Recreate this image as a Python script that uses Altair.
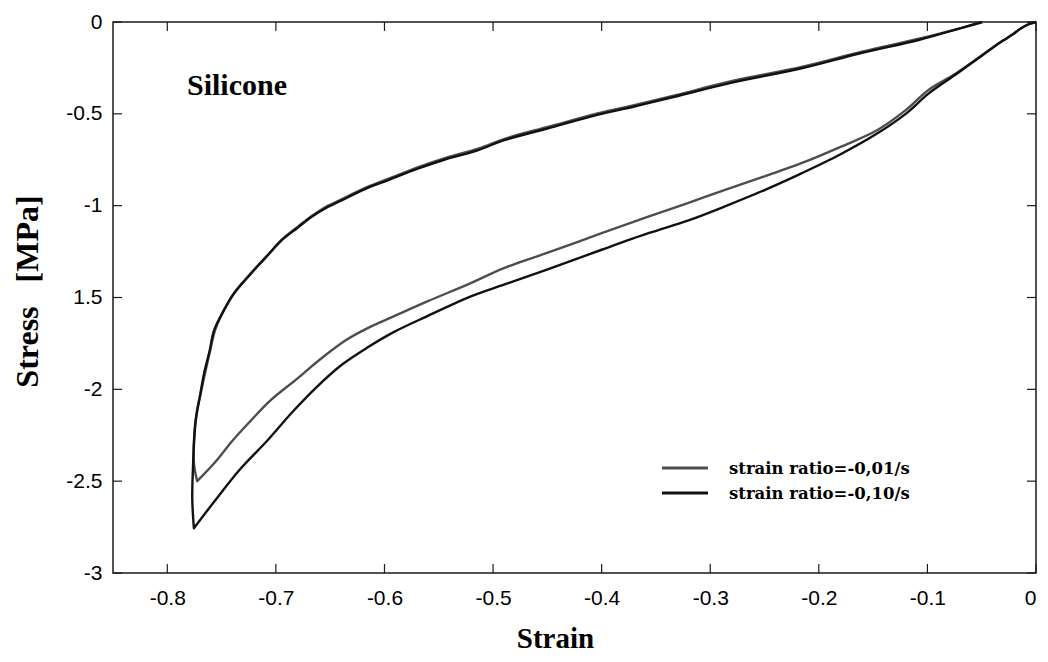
import altair as alt
import pandas as pd

# ---- data ----
series_names = ["strain ratio=-0,01/s", "strain ratio=-0,10/s"]
series_colors = ["#4d4d4d", "#111111"]

# loading path (0 -> peak compression), strain ratio -0.01/s
g_load_strain = [0.000, -0.006, -0.014, -0.022, -0.030, -0.040, -0.056, -0.075, -0.099, -0.120,
                 -0.146, -0.180, -0.216, -0.250, -0.287, -0.320, -0.357, -0.400, -0.451, -0.490,
                 -0.521, -0.560, -0.592, -0.615, -0.635, -0.660, -0.680, -0.705, -0.723, -0.740,
                 -0.755, -0.7725]
g_load_stress = [0.000, -0.010, -0.035, -0.070, -0.100, -0.140, -0.207, -0.285, -0.370, -0.480,
                 -0.588, -0.680, -0.769, -0.840, -0.915, -0.985, -1.060, -1.150, -1.259, -1.340,
                 -1.423, -1.520, -1.604, -1.665, -1.730, -1.840, -1.940, -2.060, -2.170, -2.280,
                 -2.390, -2.500]
# unloading path, strain ratio -0.01/s
g_unl_strain = [-0.7725, -0.7755, -0.7752, -0.7728, -0.7692, -0.7648, -0.7602, -0.7556, -0.7468,
                -0.7376, -0.7218, -0.7078, -0.6936, -0.6788, -0.6652, -0.6518, -0.6376, -0.6166,
                -0.5948, -0.5688, -0.5436, -0.5138, -0.4872, -0.4488, -0.4028, -0.3682, -0.3318,
                -0.2788, -0.2148, -0.1602, -0.1068, -0.0756, -0.0488]
g_unl_stress = [-2.500, -2.400, -2.250, -2.120, -2.020, -1.900, -1.780, -1.670, -1.560, -1.470,
                -1.360, -1.270, -1.180, -1.110, -1.050, -1.000, -0.960, -0.900, -0.850, -0.790,
                -0.740, -0.690, -0.632, -0.570, -0.496, -0.450, -0.398, -0.320, -0.243, -0.161,
                -0.090, -0.043, 0.000]

# loading path, strain ratio -0.10/s
b_load_strain = [0.000, -0.006, -0.014, -0.022, -0.030, -0.040, -0.056, -0.075, -0.099, -0.120,
                 -0.146, -0.180, -0.216, -0.250, -0.287, -0.320, -0.357, -0.400, -0.451, -0.490,
                 -0.521, -0.560, -0.592, -0.615, -0.639, -0.662, -0.685, -0.708, -0.733, -0.754,
                 -0.7755]
b_load_stress = [0.000, -0.010, -0.035, -0.070, -0.100, -0.140, -0.210, -0.290, -0.390, -0.500,
                 -0.606, -0.720, -0.824, -0.915, -1.005, -1.080, -1.150, -1.240, -1.350, -1.430,
                 -1.495, -1.600, -1.690, -1.770, -1.865, -1.985, -2.125, -2.280, -2.435, -2.590,
                 -2.756]
# unloading path, strain ratio -0.10/s
b_unl_strain = [-0.7755, -0.7770, -0.7765, -0.7740, -0.7700, -0.7660, -0.7610, -0.7570, -0.7480,
                -0.7390, -0.7230, -0.7090, -0.6950, -0.6800, -0.6670, -0.6530, -0.6390, -0.6180,
                -0.5960, -0.5700, -0.5450, -0.5150, -0.4890, -0.4500, -0.4040, -0.3700, -0.3330,
                -0.2800, -0.2160, -0.1620, -0.1080, -0.0780, -0.0500]
b_unl_stress = [-2.756, -2.600, -2.450, -2.180, -2.040, -1.910, -1.790, -1.680, -1.570, -1.480,
                -1.370, -1.280, -1.190, -1.120, -1.060, -1.010, -0.970, -0.910, -0.860, -0.800,
                -0.750, -0.700, -0.642, -0.580, -0.506, -0.460, -0.407, -0.330, -0.252, -0.170,
                -0.098, -0.048, 0.000]

x_ticks = [-0.8, -0.7, -0.6, -0.5, -0.4, -0.3, -0.2, -0.1, 0]
y_ticks = [0, -0.5, -1, -1.5, -2, -2.5, -3]

annotation = "Silicone"
x_title = "Strain"
y_title = "Stress\u00a0\u00a0\u00a0[MPa]"

# ---- build table ----
rows = []
paths = [
    (series_names[0], g_load_strain, g_load_stress, g_unl_strain, g_unl_stress),
    (series_names[1], b_load_strain, b_load_stress, b_unl_strain, b_unl_stress),
]
for name, ls, lst, us, ust in paths:
    pts = list(zip(ls, lst)) + list(zip(us, ust))
    for i, (sx, sy) in enumerate(pts):
        rows.append({"series": name, "strain": sx, "stress": sy, "order": i})
df = pd.DataFrame(rows)

W, H = 923, 551
INK = "#1a1a1a"

xs = alt.Scale(domain=[-0.85, 0], nice=False, zero=False)
ys = alt.Scale(domain=[-3, 0], nice=False, zero=False)

x_axis = alt.Axis(
    values=x_ticks, title=x_title, labelExpr="toString(datum.value)",
    ticks=False, domain=False, grid=False,
    labelFont="Liberation Sans", labelFontSize=21, labelColor="#000", labelPadding=14,
    titleFont="Liberation Serif", titleFontSize=29, titleFontWeight="bold", titleColor="#000",
    titleX=442, titleY=74, titleBaseline="alphabetic", titleAlign="center",
)
y_axis = alt.Axis(
    values=y_ticks, title=y_title,
    labelExpr="datum.value == -1.5 ? '1.5' : toString(datum.value)",
    ticks=False, domain=False, grid=False,
    labelFont="Liberation Sans", labelFontSize=21, labelColor="#000", labelPadding=11,
    titleFont="Liberation Serif", titleFontSize=32, titleFontWeight="bold", titleColor="#000",
    titleAngle=270, titleX=-76, titleY=269, titleBaseline="alphabetic", titleAlign="center",
)

X = alt.X("strain:Q", scale=xs, axis=x_axis)
Y = alt.Y("stress:Q", scale=ys, axis=y_axis)

lines = alt.Chart(df).mark_line(strokeWidth=2.4, strokeJoin="round", interpolate="catmull-rom").encode(
    x=X, y=Y,
    color=alt.Color("series:N", scale=alt.Scale(domain=series_names, range=series_colors), legend=None),
    order=alt.Order("order:Q"),
)

xt = pd.DataFrame({"strain": x_ticks})
yt = pd.DataFrame({"stress": y_ticks})
TL = 9
tick_layers = [
    alt.Chart(xt).mark_rule(color=INK, strokeWidth=1.2).encode(x=X, y=alt.value(H), y2=alt.value(H - TL)),
    alt.Chart(xt).mark_rule(color=INK, strokeWidth=1.2).encode(x=X, y=alt.value(0), y2=alt.value(TL)),
    alt.Chart(yt).mark_rule(color=INK, strokeWidth=1.2).encode(y=Y, x=alt.value(0), x2=alt.value(TL)),
    alt.Chart(yt).mark_rule(color=INK, strokeWidth=1.2).encode(y=Y, x=alt.value(W), x2=alt.value(W - TL)),
]

legend_layers = []
for i, (name, col) in enumerate(zip(series_names, series_colors)):
    ldf = pd.DataFrame({"label": [name]})
    legend_layers.append(
        alt.Chart(ldf).mark_rule(color=col, strokeWidth=3).encode(
            x=alt.value(549), x2=alt.value(595), y=alt.value(446 + 25 * i)
        )
    )
    legend_layers.append(
        alt.Chart(ldf).mark_text(
            font="DejaVu Serif", fontWeight="bold", fontSize=16.5, color="#000",
            align="left", baseline="alphabetic",
        ).encode(text="label:N", x=alt.value(616), y=alt.value(452 + 25 * i))
    )

ann = alt.Chart(pd.DataFrame({"label": [annotation]})).mark_text(
    font="Liberation Serif", fontWeight="bold", fontSize=30, color="#000",
    align="left", baseline="alphabetic",
).encode(text="label:N", x=alt.value(74), y=alt.value(73))

chart = alt.layer(lines, *tick_layers, *legend_layers, ann).properties(
    width=W, height=H,
    autosize=alt.AutoSizeParams(type="none"),
    padding={"left": 105, "top": 14, "right": 4, "bottom": 81},
    background="white",
).configure_view(stroke=INK, strokeWidth=1.5)

chart.save("out.html", embed_options={"renderer": "svg", "actions": False})
